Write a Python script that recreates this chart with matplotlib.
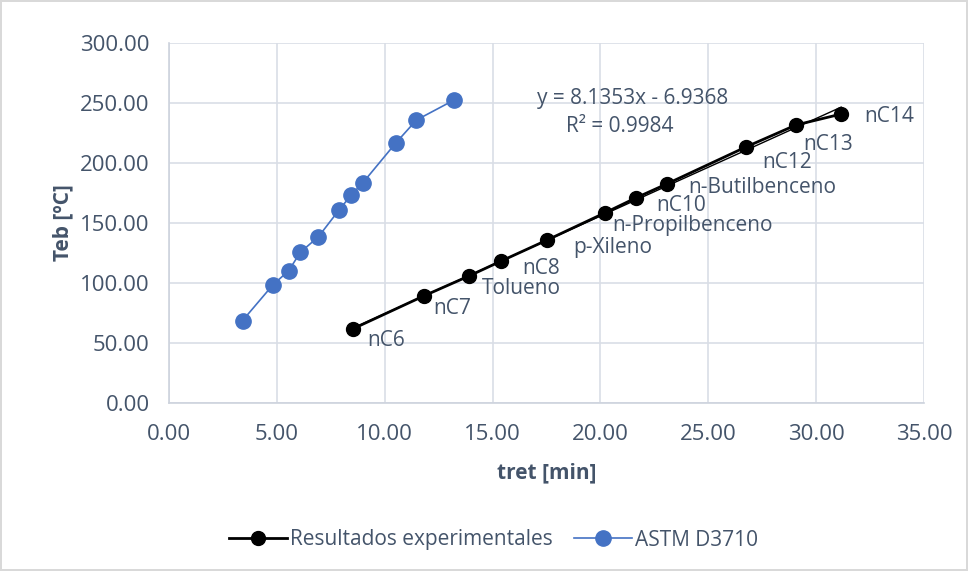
import numpy as np
import matplotlib.pyplot as plt

plt.rcParams['font.family'] = ['Open Sans', 'DejaVu Sans']

# Resultados experimentales
exp_names = ['nC6', 'nC7', 'Tolueno', 'nC8', 'p-Xileno', 'n-Propilbenceno',
             'nC10', 'n-Butilbenceno', 'nC12', 'nC13', 'nC14']
exp_tret = [8.51, 11.81, 13.90, 15.40, 17.53, 20.19, 21.63, 23.07, 26.74, 29.07, 31.16]
exp_teb = [61.7, 89.2, 105.8, 118.3, 135.8, 158.3, 170.8, 182.5, 213.3, 231.7, 240.8]

# ASTM D3710
astm_tret = [3.41, 4.81, 5.55, 6.09, 6.93, 7.88, 8.45, 8.99, 10.50, 11.47, 13.22]
astm_teb = [68.7, 98.3, 110.3, 125.6, 138.6, 160.8, 173.3, 183.6, 216.4, 235.8, 252.5]

# linea de tendencia
slope = 8.1353
intercept = -6.9368
r2 = 0.9984

# desplazamiento de las etiquetas (pixeles)
label_offsets = [(15, -12), (9, -13), (13, -12), (21, -7), (26, -7), (8, -12),
                 (21, -7), (22, -3), (16, -15), (7, -20), (23, -2)]

text_color = '#44546A'
grid_color = '#D9DEE6'
fs = 15

fig = plt.figure(figsize=(9.68, 5.71), dpi=100)
fig.patch.set_edgecolor('#D9D9D9')
fig.patch.set_linewidth(1.5)
ax = fig.add_axes([169 / 968, 1 - 403 / 571, (924 - 169) / 968, (403 - 43) / 571])

ax.plot(exp_tret, exp_teb, color='black', lw=2.0, marker='o', ms=10,
        label='Resultados experimentales', zorder=3)
ax.plot(astm_tret, astm_teb, color='#4472C4', lw=1.2, marker='o', ms=11,
        label='ASTM D3710', zorder=3)

xt = np.array([exp_tret[0], exp_tret[-1]])
ax.plot(xt, slope * xt + intercept, color='black', lw=1.0, zorder=2)

for name, x, y, (dx, dy) in zip(exp_names, exp_tret, exp_teb, label_offsets):
    ax.annotate(name, (x, y), xytext=(dx * 0.72, dy * 0.72), textcoords='offset points',
                ha='left', va='center', fontsize=fs, color=text_color)

ax.text((633 - 169) / 755, (403 - 98) / 360, f'y = {slope}x - {abs(intercept)}',
        transform=ax.transAxes, ha='center', va='center', fontsize=fs, color=text_color)
ax.text((620 - 169) / 755, (403 - 126) / 360, f'R² = {r2}',
        transform=ax.transAxes, ha='center', va='center', fontsize=fs, color=text_color)

ax.set_xlim(0, 35)
ax.set_ylim(0, 300)
ax.set_xticks(np.arange(0, 36, 5))
ax.set_yticks(np.arange(0, 301, 50))
ax.xaxis.set_major_formatter(plt.FormatStrFormatter('%.2f'))
ax.yaxis.set_major_formatter(plt.FormatStrFormatter('%.2f'))
ax.tick_params(length=0, labelsize=16, labelcolor=text_color)
ax.tick_params(axis='y', pad=14)
ax.tick_params(axis='x', pad=15)
ax.grid(True, color=grid_color, lw=1.2)
ax.set_axisbelow(True)
for s in ['top', 'right']:
    ax.spines[s].set_visible(False)
for s in ['left', 'bottom']:
    ax.spines[s].set_color('#CDD3DD')
    ax.spines[s].set_linewidth(1.2)

ax.set_xlabel('tret [min]', fontsize=fs, fontweight='bold', color=text_color, labelpad=13)
ax.set_ylabel('Teb [ºC]', fontsize=fs, fontweight='bold', color=text_color, labelpad=5)

fig.legend(loc='center', bbox_to_anchor=(0.51, 1 - 540 / 571), ncol=2, frameon=False,
           fontsize=fs, labelcolor=text_color, handlelength=2.8, columnspacing=1.0,
           handletextpad=0.15)

fig.savefig('out.png', dpi=100)
